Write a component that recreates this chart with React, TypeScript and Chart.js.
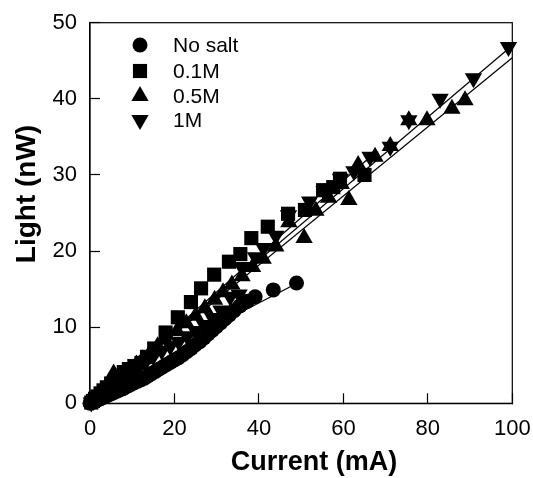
import React, { useEffect, useRef } from 'react';
import { Chart, registerables } from 'chart.js';
import * as helpers from 'chart.js/helpers';

Chart.register(...registerables);

const FONT = "'Liberation Sans', Arial, Helvetica, sans-serif";

// ---- data ----
const xTickValues = [0, 20, 40, 60, 80, 100];
const yTickValues = [0, 10, 20, 30, 40, 50];
const xTitle = 'Current (mA)';
const yTitle = 'Light (nW)';
const seriesNames = ['No salt', '0.1M', '0.5M', '1M'];

const noSaltX = [0, 0.4, 0.8, 1.2, 1.6, 2.0, 2.5, 3.0, 3.5, 4.0, 4.6, 5.2, 5.8, 6.4, 7.0, 7.7, 8.4, 9.1, 9.8, 10.5, 11.3, 12.1, 12.9, 13.7, 14.6, 15.5, 16.4, 17.3, 18.2, 19.1, 20.0, 21.0, 22.0, 23.0, 24.0, 25.0, 26.0, 27.0, 28.0, 29.0, 30.0, 31.0, 32.0, 33.0, 34.2, 35.5, 37.3, 39.1, 43.4, 48.9];
const noSaltY = [0, 0.1, 0.2, 0.3, 0.4, 0.5, 0.6, 0.75, 0.9, 1.0, 1.15, 1.3, 1.45, 1.6, 1.75, 1.9, 2.1, 2.3, 2.5, 2.7, 2.9, 3.1, 3.3, 3.6, 3.9, 4.2, 4.5, 4.8, 5.1, 5.4, 5.7, 6.0, 6.4, 6.8, 7.2, 7.7, 8.1, 8.6, 9.1, 9.6, 10.1, 10.6, 11.1, 11.6, 12.2, 12.8, 13.4, 14.0, 14.9, 15.8];

const m01X = [0.3, 0.7, 1.2, 1.8, 2.5, 3.2, 4.0, 5.0, 6.0, 7.0, 8.0, 9.2, 10.5, 12.2, 13.5, 15.2, 17.9, 20.8, 23.9, 26.3, 29.4, 32.9, 35.6, 38.2, 42.1, 46.9, 50.9, 55.2, 57.6, 59.2, 65.0];
const m01Y = [0.1, 0.3, 0.6, 0.9, 1.3, 1.7, 2.1, 2.6, 3.1, 3.6, 4.1, 4.5, 4.9, 5.3, 6.1, 7.2, 9.3, 11.3, 13.3, 15.1, 16.9, 18.6, 19.6, 21.7, 23.2, 24.9, 25.4, 28.0, 28.4, 29.5, 30.0];

const m05X = [0.4, 0.9, 1.5, 2.2, 3.0, 3.8, 4.7, 5.6, 7.0, 8.2, 9.5, 11.0, 12.5, 14.2, 16.0, 17.8, 20.6, 22.8, 25.0, 27.2, 29.5, 31.5, 33.6, 36.0, 38.5, 41.0, 44.0, 47.1, 50.7, 53.5, 56.5, 59.5, 61.3, 63.5, 67.5, 71.1, 75.5, 79.8, 85.7, 88.8];
const m05Y = [0.2, 0.4, 0.7, 1.0, 1.4, 1.8, 2.2, 3.9, 3.3, 3.8, 4.4, 5.1, 5.8, 6.6, 7.5, 8.4, 9.5, 10.5, 11.5, 12.5, 13.6, 14.6, 15.6, 16.7, 17.9, 19.0, 20.6, 23.8, 21.7, 25.3, 27.0, 28.8, 26.7, 31.3, 32.4, 33.8, 37.2, 37.2, 38.7, 39.8];

const m1X = [0.3, 0.8, 1.4, 2.1, 2.9, 3.7, 4.6, 5.6, 6.7, 7.9, 9.1, 10.4, 11.8, 13.3, 15.0, 17.0, 19.0, 21.0, 23.0, 25.0, 27.0, 29.0, 31.0, 33.2, 35.3, 35.9, 39.2, 41.1, 44.0, 47.0, 52.0, 55.4, 59.3, 62.5, 66.3, 71.1, 75.5, 82.9, 90.8, 99.1];
const m1Y = [0.1, 0.3, 0.6, 0.9, 1.3, 1.6, 2.0, 2.4, 2.9, 3.4, 3.9, 4.4, 5.0, 5.6, 6.2, 6.9, 7.5, 8.1, 8.8, 9.5, 10.3, 11.2, 12.2, 14.0, 14.3, 17.9, 19.2, 20.4, 22.0, 24.7, 26.5, 27.9, 29.5, 30.5, 32.4, 33.7, 37.2, 40.0, 42.7, 46.8];

// fitted lines (end points)
const fitNoSaltX = [24, 49.5];
const fitNoSaltY = [8.6, 15.9];
const fit01X = [0, 66];
const fit01Y = [0, 32.2];
const fit05X = [0, 100];
const fit05Y = [0, 45.4];
const fit1X = [0, 100];
const fit1Y = [0, 47.0];

const pts = (xs: number[], ys: number[]) => xs.map((x, i) => ({ x, y: ys[i] }));

const markerStyles = [
  { pointStyle: 'circle', radius: 7.5, rotation: 0 },
  { pointStyle: 'rect', radius: 10, rotation: 0 },
  { pointStyle: 'triangle', radius: 10, rotation: 0 },
  { pointStyle: 'triangle', radius: 10, rotation: 180 },
];

const overlayPlugin = {
  id: 'overlay',
  afterDraw(chart: any) {
    const { ctx, chartArea: a } = chart;
    ctx.save();
    ctx.strokeStyle = '#000';
    ctx.lineWidth = 1.2;
    ctx.strokeRect(a.left, a.top, a.right - a.left, a.bottom - a.top);

    ctx.fillStyle = '#000';
    ctx.textAlign = 'center';
    ctx.textBaseline = 'middle';
    ctx.font = `bold 27px ${FONT}`;
    ctx.fillText(xTitle, 314, 463);
    ctx.save();
    ctx.translate(27, 194);
    ctx.rotate(-Math.PI / 2);
    ctx.font = `bold 28px ${FONT}`;
    ctx.fillText(yTitle, 0, 0);
    ctx.restore();

    // legend
    const rowsY = [45, 71, 96, 120];
    ctx.font = `21px ${FONT}`;
    ctx.textAlign = 'left';
    seriesNames.forEach((name, i) => {
      const m = markerStyles[i];
      ctx.fillStyle = '#000';
      ctx.strokeStyle = '#000';
      helpers.drawPoint(ctx, { pointStyle: m.pointStyle, radius: m.radius, rotation: m.rotation, borderWidth: 0 }, 140, rowsY[i]);
      ctx.fillStyle = '#000';
      ctx.fillText(name, 173, rowsY[i] + 1);
    });
    ctx.restore();
  },
};

export default function App() {
  const ref = useRef<HTMLCanvasElement | null>(null);
  useEffect(() => {
    if (!ref.current) return;
    const seriesData = [pts(noSaltX, noSaltY), pts(m01X, m01Y), pts(m05X, m05Y), pts(m1X, m1Y)];
    const scatterSets = seriesData.map((d, i) => ({
      label: seriesNames[i],
      data: d,
      showLine: false,
      pointStyle: markerStyles[i].pointStyle,
      pointRadius: markerStyles[i].radius,
      pointRotation: markerStyles[i].rotation,
      pointBackgroundColor: '#000',
      pointBorderColor: '#000',
      pointBorderWidth: 0,
      pointHoverRadius: markerStyles[i].radius,
      clip: false,
    }));
    const fits = [
      pts(fitNoSaltX, fitNoSaltY),
      pts(fit01X, fit01Y),
      pts(fit05X, fit05Y),
      pts(fit1X, fit1Y),
    ];
    const lineSets = fits.map((d, i) => ({
      label: 'fit ' + seriesNames[i],
      data: d,
      showLine: true,
      borderColor: '#000',
      borderWidth: 1.2,
      pointRadius: 0,
      pointHoverRadius: 0,
      fill: false,
    }));
    const chart = new Chart(ref.current, {
      type: 'scatter',
      data: { datasets: [...scatterSets, ...lineSets] as any },
      plugins: [overlayPlugin],
      options: {
        animation: false,
        responsive: false,
        events: [],
        layout: { padding: { left: 0, right: 20.7, top: 22.7, bottom: 0 } },
        plugins: { legend: { display: false }, tooltip: { enabled: false }, title: { display: false } },
        scales: {
          x: {
            type: 'linear',
            position: 'bottom',
            min: 0,
            max: 100,
            afterBuildTicks: (s: any) => { s.ticks = xTickValues.map((v) => ({ value: v })); },
            ticks: { color: '#000', font: { family: FONT, size: 22 }, padding: 22.5, maxRotation: 0 },
            grid: { drawOnChartArea: false, drawTicks: true, tickLength: -10, tickColor: '#000', tickWidth: 1.2, color: '#000' },
            border: { display: true, color: '#000', width: 1.2 },
            title: { display: false },
            afterFit: (s: any) => { s.height = 478 - 403.3; s.paddingLeft = 0; s.paddingRight = 0; },
          },
          y: {
            type: 'linear',
            position: 'left',
            min: 0,
            max: 50,
            afterBuildTicks: (s: any) => { s.ticks = yTickValues.map((v) => ({ value: v })); },
            ticks: { color: '#000', font: { family: FONT, size: 22 }, padding: 23 },
            grid: { drawOnChartArea: false, drawTicks: true, tickLength: -10, tickColor: '#000', tickWidth: 1.2, color: '#000' },
            border: { display: true, color: '#000', width: 1.2 },
            title: { display: false },
            afterFit: (s: any) => { s.width = 90; s.paddingTop = 0; s.paddingBottom = 0; },
          },
        },
      } as any,
    });
    return () => chart.destroy();
  }, []);
  return (
    <div style={{ position: 'absolute', left: 0, top: 0, width: 533, height: 478, background: '#fff' }}>
      <canvas ref={ref} width={533} height={478} style={{ display: 'block', width: 533, height: 478 }} />
    </div>
  );
}
